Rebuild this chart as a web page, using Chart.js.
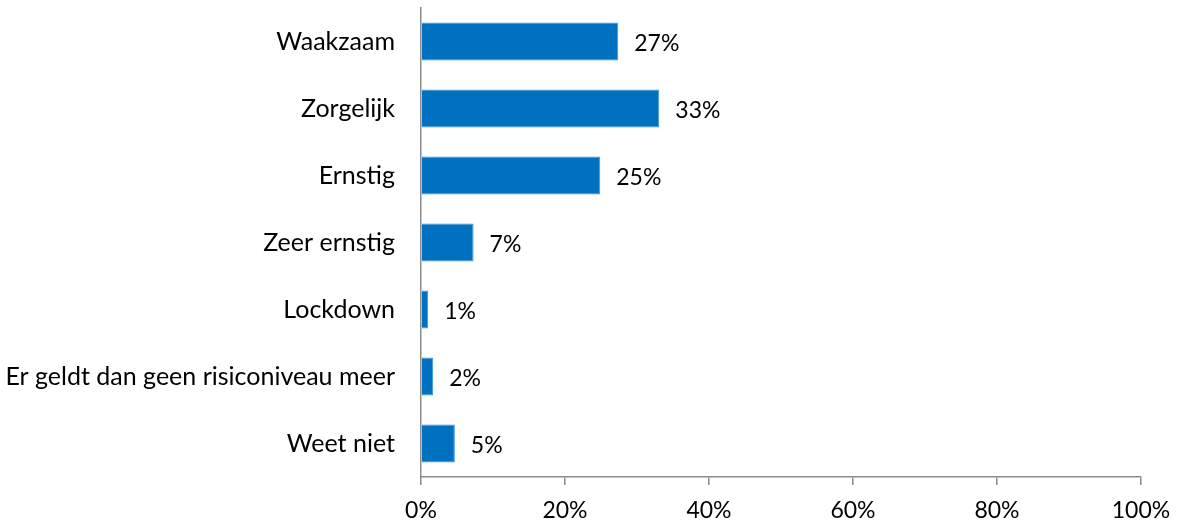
<!DOCTYPE html>
<html>
<head>
<meta charset="utf-8">
<script src="https://cdn.jsdelivr.net/npm/chart.js@4/dist/chart.umd.min.js"></script>
<style>
  html, body { margin: 0; padding: 0; background: #fff; }
  #wrap { width: 1179px; height: 524px; }
</style>
</head>
<body>
<div id="wrap"><canvas id="chart"></canvas></div>
<script>
// risiconiveaus en percentages
const categories = ['Waakzaam', 'Zorgelijk', 'Ernstig', 'Zeer ernstig', 'Lockdown', 'Er geldt dan geen risiconiveau meer', 'Weet niet'];
const percentages = [27.4, 33.1, 24.9, 7.3, 1.0, 1.7, 4.7];
const xTicks = [0, 20, 40, 60, 80, 100];

const FONT = 'Lato';
const CAT_SIZE = 25;
const NUM_SIZE = 23;
const AXIS_GREY = '#8c8c8c';

// eenvoudige plugin voor de waardelabels achter de balken
const valueLabels = {
    id: 'valueLabels',
    afterDatasetsDraw(chart) {
        const ctx = chart.ctx;
        const meta = chart.getDatasetMeta(0);
        ctx.save();
        ctx.font = NUM_SIZE + 'px ' + FONT;
        ctx.fillStyle = '#000';
        ctx.textAlign = 'left';
        ctx.textBaseline = 'middle';
        meta.data.forEach((bar, i) => {
            ctx.fillText(Math.round(percentages[i]) + '%', bar.x + 16, bar.y + 2);
        });
        ctx.restore();
    }
};

new Chart(document.getElementById('chart'), {
    type: 'bar',
    data: {
        labels: categories,
        datasets: [{
            data: percentages,
            backgroundColor: '#0070C0',
            borderColor: '#3f93d3',
            borderWidth: 1,
            barPercentage: 0.57,
            categoryPercentage: 1
        }]
    },
    options: {
        indexAxis: 'y',
        responsive: true,
        maintainAspectRatio: false,
        animation: false,
        layout: { padding: { top: 8, right: 38, left: 0, bottom: 0 } },
        plugins: { legend: { display: false }, tooltip: { enabled: false } },
        scales: {
            x: {
                min: 0,
                max: 100,
                afterBuildTicks: (scale) => { scale.ticks = xTicks.map(v => ({ value: v })); },
                afterFit: (scale) => {
                    scale.height = 47;
                    scale.paddingLeft = 0;
                    scale.paddingRight = 0;
                },
                grid: { display: true, drawOnChartArea: false, drawTicks: true, tickLength: 8, color: AXIS_GREY, lineWidth: 1.5 },
                border: { display: true, color: AXIS_GREY, width: 1.5 },
                ticks: {
                    color: '#000',
                    padding: 12,
                    maxRotation: 0,
                    font: { family: FONT, size: NUM_SIZE },
                    callback: (v) => v + '%'
                }
            },
            y: {
                afterFit: (scale) => {
                    scale.width = 421;
                    scale.paddingTop = 0;
                    scale.paddingBottom = 0;
                },
                // onzichtbare tick-streepjes als ruimte tussen label en as
                grid: { display: true, drawOnChartArea: false, drawTicks: true, tickLength: 26, color: 'rgba(0,0,0,0)' },
                border: { display: true, color: AXIS_GREY, width: 1.5 },
                ticks: {
                    color: '#000',
                    padding: 0,
                    font: { family: FONT, size: CAT_SIZE }
                }
            }
        }
    },
    plugins: [valueLabels]
});
</script>
</body>
</html>
